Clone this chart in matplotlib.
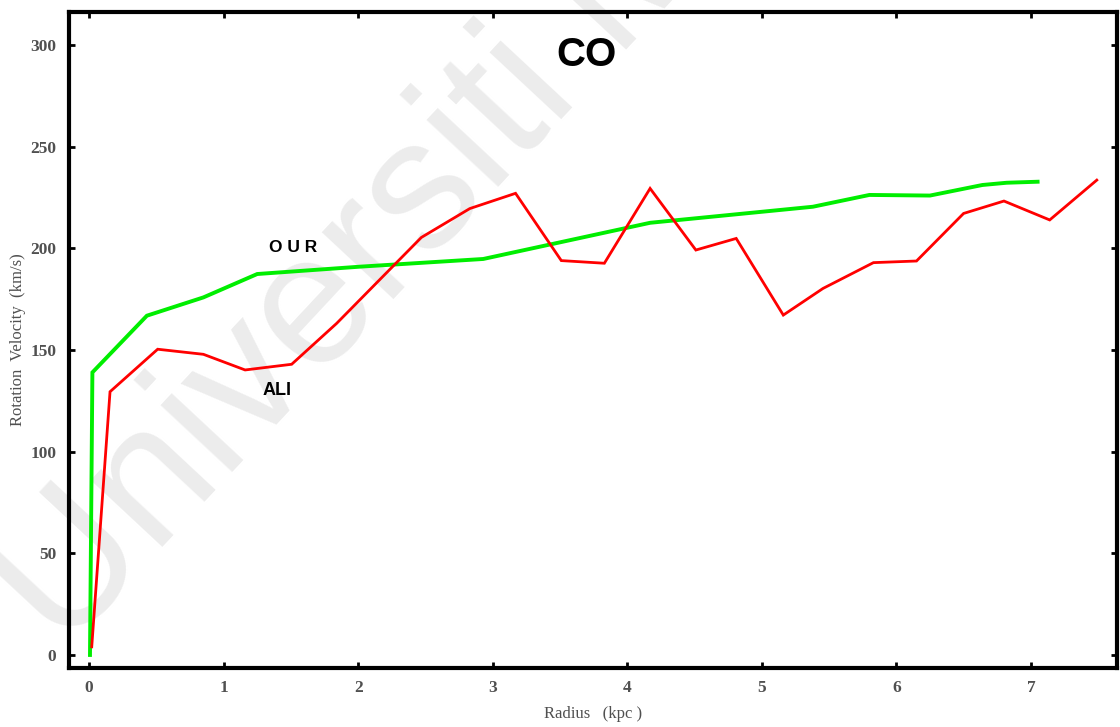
import matplotlib
matplotlib.use("Agg")
import matplotlib.pyplot as plt

# OUR rotation curve (kpc, km/s)
our_r = [0.007, 0.025, 0.43, 0.85, 1.25, 2.01, 2.93, 4.17, 5.38, 5.80, 6.25, 6.64, 6.82, 7.05]
our_v = [0.0, 139.0, 166.9, 175.9, 187.4, 191.0, 194.8, 212.6, 220.5, 226.3, 226.0, 231.2, 232.3, 232.8]

# ALI rotation curve (kpc, km/s)
ali_r = [0.02, 0.156, 0.51, 0.85, 1.16, 1.506, 1.84, 2.47, 2.83, 3.17, 3.51, 3.83,
         4.17, 4.51, 4.81, 5.16, 5.455, 5.83, 6.15, 6.50, 6.80, 7.14, 7.49]
ali_v = [4.0, 129.5, 150.4, 147.9, 140.2, 143.0, 163.1, 205.4, 219.6, 227.1, 194.0, 192.7,
         229.5, 199.2, 204.9, 167.2, 180.3, 193.0, 193.8, 217.2, 223.3, 214.0, 233.6]

x_ticks = [0, 1, 2, 3, 4, 5, 6, 7]
y_ticks = [0, 50, 100, 150, 200, 250, 300]

fig = plt.figure(figsize=(11.2, 7.27), dpi=100)

# faint watermark behind everything
fig.text(0.05625, 0.1018, "Universiti Malaya", rotation=47, rotation_mode="anchor",
         ha="left", va="baseline", fontsize=133, family="Liberation Sans",
         color="#ececec", zorder=-1)

ax = fig.add_axes([0.0616, 0.0812, 0.9357, 0.9023])
ax.patch.set_alpha(0)

ax.plot(our_r, our_v, color="#00ee00", lw=2.8, solid_joinstyle="miter")
ax.plot(ali_r, ali_v, color="#ff0000", lw=2.0, solid_joinstyle="miter")

ax.set_xlim(-0.149, 7.64)
ax.set_ylim(-6.4, 316.3)
ax.set_xticks(x_ticks)
ax.set_yticks(y_ticks)

for s in ax.spines.values():
    s.set_linewidth(3)
    s.set_color("black")

ax.tick_params(direction="in", length=4, width=2, top=True, right=True,
               labelsize=12.5, labelcolor="#505050", pad=9)
for lab in ax.get_xticklabels() + ax.get_yticklabels():
    lab.set_family("Liberation Serif")
    lab.set_fontweight("bold")

ax.set_xlabel("Radius   (kpc )", family="Liberation Serif", fontsize=12,
              color="#505050", labelpad=7)
ax.set_ylabel("Rotation  Velocity  (km/s)", family="Liberation Serif", fontsize=12,
              color="#505050", labelpad=3)

ax.text(3.70, 295, "CO", ha="center", va="center", fontsize=29,
        fontweight="bold", family="Liberation Sans")
ax.text(1.52, 200.2, "O U R", ha="center", va="center", fontsize=12.5,
        fontweight="bold", family="Liberation Sans")
ax.text(1.40, 130.3, "ALI", ha="center", va="center", fontsize=13,
        fontweight="bold", family="Liberation Sans")

fig.savefig("out.png", dpi=100)
